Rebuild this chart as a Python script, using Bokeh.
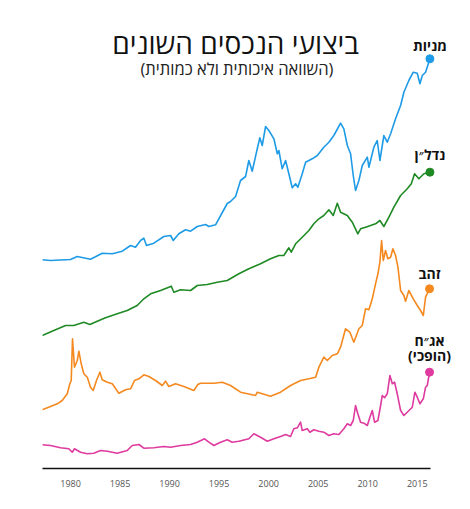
from bokeh.plotting import figure
from bokeh.models import FixedTicker, Range1d
from bokeh.core.properties import value
from bokeh.embed import file_html
from bokeh.resources import INLINE

# ---- data (qualitative index levels) ----
stocks_x = [1977.14, 1977.98, 1980.0, 1980.68, 1982.02, 1983.2, 1984.21, 1985.22, 1986.06, 1986.56,
            1987.07, 1987.4, 1987.67, 1988.41, 1989.42, 1990.1, 1990.37, 1990.93, 1991.61, 1992.12,
            1992.79, 1993.63, 1993.96, 1994.64, 1995.32, 1995.82, 1996.15, 1996.66, 1997.16, 1997.67,
            1998.0, 1998.34, 1998.85, 1999.11, 1999.35, 1999.69, 2000.02, 2000.53, 2000.87, 2001.03,
            2001.37, 2001.71, 2002.04, 2002.38, 2002.72, 2002.95, 2003.39, 2003.73, 2004.4, 2004.91,
            2005.57, 2006.08, 2006.58, 2007.26, 2007.59, 2007.94, 2008.27, 2008.54, 2008.77, 2009.11,
            2009.45, 2009.96, 2010.12, 2010.62, 2010.96, 2011.23, 2011.63, 2011.97, 2012.31, 2012.81,
            2013.32, 2013.65, 2014.15, 2014.6, 2015.0, 2015.27, 2015.51, 2015.84, 2016.28]
stocks_y = [208.7, 208, 209, 212, 209.3, 215.3, 214.7, 217.3, 223, 221.3,
            228, 230.3, 223, 225.3, 232, 233, 228, 234.7, 238.7, 237.3,
            242, 244, 242, 243.7, 256, 265, 267, 272, 288, 292,
            308, 297.3, 319.7, 330.7, 323, 342, 338, 329.7, 314.7, 318,
            299.7, 308, 294.7, 280.7, 284.7, 281.3, 294.7, 306.3, 309.7, 313,
            321.3, 326.3, 333, 345.3, 339.7, 323, 314.7, 293, 278, 288,
            303, 311.3, 301.3, 321.3, 328, 308, 333, 326.3, 334.7, 349.7,
            363, 376.3, 388, 396.3, 395.3, 384.7, 393, 396.3, 409.7]

realestate_x = [1977.14, 1978.31, 1979.5, 1980.33, 1981.34, 1981.95, 1982.7, 1983.53, 1984.71, 1985.72,
                1986.73, 1987.4, 1988.08, 1989.09, 1989.92, 1990.17, 1990.43, 1991.11, 1992.12, 1992.79,
                1993.8, 1994.81, 1995.82, 1996.99, 1998.0, 1999.18, 2000.19, 2001.03, 2001.53, 2002.04,
                2002.28, 2002.72, 2003.39, 2004.06, 2004.56, 2005.07, 2005.57, 2006.08, 2006.52, 2006.93,
                2007.26, 2007.94, 2008.44, 2009.0, 2009.28, 2009.78, 2010.29, 2010.79, 2011.23, 2011.63,
                2012.14, 2012.64, 2013.32, 2013.99, 2014.4, 2014.73, 2015.16, 2015.67, 2016.28]
realestate_y = [133, 138, 143, 143, 146.3, 144, 147.3, 150.7, 154.7, 158,
                163, 169.7, 174.7, 178, 181.3, 182.3, 176.3, 178.7, 178, 183,
                184, 186.3, 188, 194.7, 199.7, 204.7, 209.7, 213, 213, 220.7,
                216.3, 224.7, 231.3, 238, 244.7, 249.7, 253, 258.7, 253, 265.3,
                256.3, 253, 246.3, 234.7, 239.7, 241.3, 243, 244.7, 248, 242,
                251.3, 261.3, 273, 279.7, 284.7, 294.7, 289.7, 294.7, 296.3]

gold_x = [1977.14, 1977.98, 1978.66, 1979.16, 1979.67, 1979.93, 1980.07, 1980.2, 1980.4, 1980.68,
          1980.84, 1981.08, 1981.34, 1981.69, 1982.02, 1982.29, 1982.62, 1982.96, 1983.2, 1983.71,
          1984.21, 1984.88, 1985.55, 1986.06, 1986.46, 1986.9, 1987.4, 1987.91, 1988.58, 1989.26,
          1989.59, 1989.92, 1990.6, 1991.44, 1992.45, 1992.85, 1993.12, 1994.47, 1995.32, 1996.15,
          1997.16, 1998.68, 1998.85, 2000.19, 2001.2, 2002.21, 2003.22, 2004.06, 2004.74, 2005.07,
          2005.57, 2005.92, 2006.42, 2006.93, 2007.26, 2007.76, 2008.2, 2008.6, 2009.11, 2009.45,
          2009.78, 2010.12, 2010.46, 2010.79, 2011.03, 2011.23, 2011.4, 2011.57, 2011.8, 2012.03,
          2012.31, 2012.54, 2012.81, 2013.05, 2013.32, 2013.65, 2013.82, 2014.15, 2014.6, 2015.0,
          2015.34, 2015.61, 2015.84, 2016.24]
gold_y = [58.7, 62, 64.7, 68, 74.7, 84.7, 88, 129.7, 101.3, 108,
          117.3, 104.7, 94.7, 91.3, 81.3, 78, 88, 96.3, 88.7, 86.3,
          84.7, 75.3, 78.7, 79.7, 88, 89.7, 93.7, 92, 88, 83,
          87.3, 82, 84.7, 82, 78, 84, 85.3, 85.3, 86.3, 83,
          76.3, 73, 76.3, 72.3, 76.3, 83, 88, 89.7, 91.3, 101.3,
          111.3, 108, 113, 114.7, 121.3, 139.7, 136.3, 126.3, 139.7, 143,
          159.7, 158.7, 169.7, 184.7, 194.7, 206.3, 228, 208, 218, 209.7,
          211.3, 219.7, 213, 201.3, 178, 173, 167.3, 178, 169.7, 163,
          158, 153, 171.3, 179.7]

bonds_x = [1977.14, 1977.98, 1978.99, 1979.83, 1980.17, 1980.4, 1981.01, 1981.69, 1982.35, 1983.03,
           1983.71, 1984.71, 1985.72, 1986.23, 1986.9, 1987.4, 1988.41, 1989.42, 1990.1, 1991.11,
           1992.12, 1992.79, 1993.53, 1993.96, 1994.47, 1995.14, 1995.82, 1996.32, 1996.99, 1998.0,
           1998.51, 1999.18, 1999.86, 2000.53, 2001.2, 2001.71, 2002.21, 2002.54, 2002.89, 2003.22,
           2003.39, 2003.9, 2004.16, 2004.56, 2005.07, 2005.57, 2006.08, 2006.58, 2007.09, 2007.59,
           2007.94, 2008.27, 2008.54, 2008.77, 2009.0, 2009.28, 2009.61, 2009.96, 2010.22, 2010.46,
           2010.69, 2011.03, 2011.3, 2011.47, 2011.7, 2011.97, 2012.24, 2012.48, 2012.71, 2012.98,
           2013.32, 2013.65, 2013.99, 2014.5, 2014.76, 2015.0, 2015.27, 2015.61, 2015.84, 2016.01,
           2016.24]
bonds_y = [23.7, 23, 20.7, 19.7, 16.3, 19.7, 16.3, 14.7, 15.3, 18,
           17.3, 15.3, 18, 23, 24, 20.3, 20.7, 22, 21.3, 23,
           24, 26.3, 29.7, 26.3, 23, 26.3, 28.7, 26.3, 27.3, 29.7,
           34.7, 31.3, 27.3, 29.7, 32, 34, 32, 39.7, 40.7, 46.3,
           38, 39.7, 36.3, 38.7, 37.3, 36.3, 33, 34.7, 34, 39.7,
           44.7, 43, 48, 63, 54.7, 46.3, 45.3, 43, 51.3, 58,
           46.3, 48, 63, 73, 70.7, 74.7, 93, 84.7, 86.3, 74.7,
           58, 53, 56.3, 61.3, 76.3, 71.3, 64.7, 69.7, 81.3, 83,
           96.3]

series_names = ["מניות", "נדל״ן", "זהב", "אג״ח"]
bonds_note = "(הופכי)"
title_text = "ביצועי הנכסים השונים"
subtitle_text = "(השוואה איכותית ולא כמותית)"
tick_years = [1980, 1985, 1990, 1995, 2000, 2005, 2010, 2015]

colors = ["#1e9be6", "#1f8a24", "#f4891f", "#de3a9f"]

FONT = "Open Sans"

x_start, x_axis_end, x_frame_end = 1977.17, 2016.34, 2018.76

p = figure(width=454, height=493, output_backend="svg", toolbar_location=None,
           x_range=Range1d(x_start, x_frame_end), y_range=Range1d(0, 468),
           min_border_left=42, min_border_right=0, min_border_top=0, min_border_bottom=25)
p.outline_line_color = None
p.grid.visible = False
p.yaxis.visible = False
p.background_fill_color = "white"

p.xaxis.ticker = FixedTicker(ticks=tick_years)
p.xaxis.bounds = (x_start, x_axis_end)
p.xaxis.axis_line_color = "#111111"
p.xaxis.axis_line_width = 1.6
p.xaxis.major_tick_line_color = None
p.xaxis.minor_tick_line_color = None
p.xaxis.major_label_text_font = FONT
p.xaxis.major_label_text_font_size = "9px"
p.xaxis.major_label_text_color = "#555555"
p.xaxis.major_label_standoff = 5

all_x = [stocks_x, realestate_x, gold_x, bonds_x]
all_y = [stocks_y, realestate_y, gold_y, bonds_y]
label_dy = [13, 18, 15, 32]

for xs, ys, c, name, dy in zip(all_x, all_y, colors, series_names, label_dy):
    p.line(xs, ys, line_color=c, line_width=1.6, line_join="round")
    p.scatter([xs[-1]], [ys[-1]], size=8, fill_color=c, line_color=c)
    p.text([xs[-1]], [ys[-1] + dy], text=[name], text_align="center", text_baseline="middle",
           text_font=value(FONT), text_font_style="bold", text_font_size="14px", text_color="#111111")

p.text([bonds_x[-1]], [bonds_y[-1] + 17], text=[bonds_note], text_align="center", text_baseline="middle",
       text_font=value(FONT), text_font_style="bold", text_font_size="14px", text_color="#111111")

p.text([1996.66], [426], text=[title_text], text_align="center", text_baseline="middle",
       text_font=value(FONT), text_font_size="28px", text_color="#111111")
p.text([1996.8], [400], text=[subtitle_text], text_align="center", text_baseline="middle",
       text_font=value(FONT), text_font_size="16.5px", text_color="#222222")

open("out.html", "w").write(file_html(p, INLINE))
